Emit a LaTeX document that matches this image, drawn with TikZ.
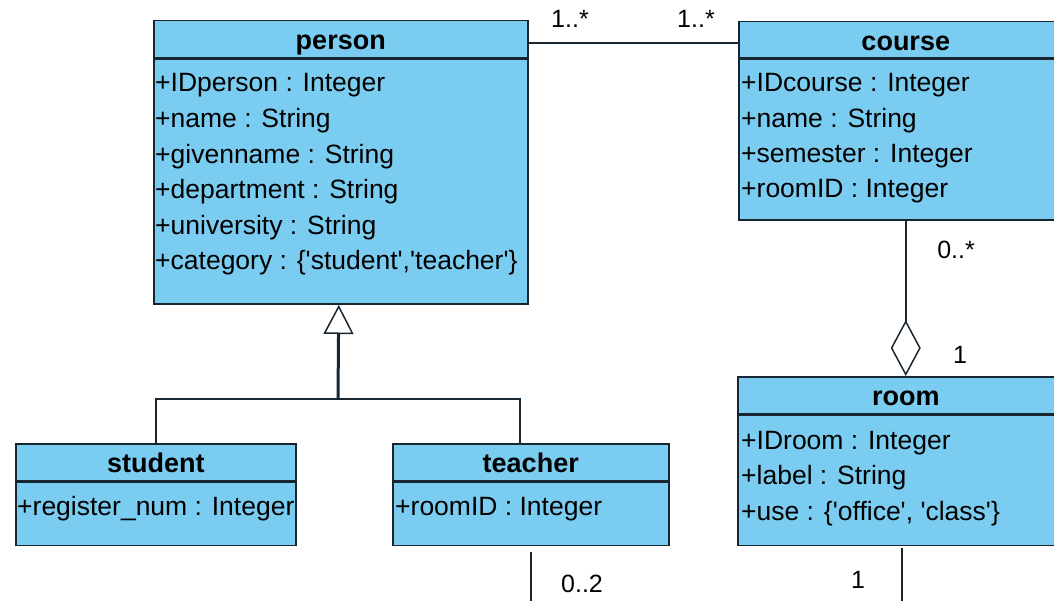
\documentclass[tikz,border=0pt]{standalone}
\usepackage{fontspec}
\setmainfont{Liberation Sans}
\usetikzlibrary{arrows.meta}
\usetikzlibrary{calc}
\definecolor{umlfill}{RGB}{122,204,240}
\definecolor{umlline}{RGB}{24,38,50}

\begin{document}
\begin{tikzpicture}[x=1pt,y=1pt,yscale=-1,xscale=1,
    every node/.style={font=\fontsize{26.5}{30}\selectfont},
    classhead/.style={draw=umlline, fill=umlfill, line width=1.5pt, inner sep=0pt, anchor=north west,
        text height=24pt, text depth=3pt, font=\fontsize{27}{30}\selectfont\bfseries},
    classbody/.style={draw=umlline, fill=umlfill, line width=1.5pt, inner sep=0pt, anchor=north west},
    attr/.style={anchor=base west, inner sep=0pt},
    mult/.style={anchor=base, inner sep=0pt, font=\fontsize{25}{28}\selectfont},
    assoc/.style={draw=umlline, line width=1.5pt}]
    \useasboundingbox (0,0) rectangle (1054,601); %same size as the reference

%Class: person
\node[classhead, minimum width=374, minimum height=37] (personhead) at (153,20) {person};
\node[classbody, minimum width=374, minimum height=245] (personbody) at (personhead.south west) {};
% Text Node
\node[attr] (pIDperson) at (155,92) {+IDperson : Integer};
\node[attr] (pName) at (155,127.6) {+name : String};
\node[attr] (pGivenname) at (155,163.2) {+givenname : String};
\node[attr] (pDepartment) at (155,198.8) {+department : String};
\node[attr] (pUniversity) at (155,234.4) {+university : String};
\node[attr] (pCategory) at (155,270) {+category : \{\textquotesingle student\textquotesingle,\textquotesingle teacher\textquotesingle\}};

%Class: course
\node[classhead, minimum width=334, minimum height=36] (coursehead) at (738,21) {course};
\node[classbody, minimum width=334, minimum height=161] (coursebody) at (coursehead.south west) {};
% Text Node
\node[attr] (cIDcourse) at (741,92) {+IDcourse : Integer};
\node[attr] (cName) at (741,127.3) {+name : String};
\node[attr] (cSemester) at (741,162.6) {+semester : Integer};
\node[attr] (cRoomID) at (741,197.9) {+roomID : Integer};

%Class: room
\node[classhead, minimum width=336, minimum height=37] (roomhead) at (737,376) {room};
\node[classbody, minimum width=336, minimum height=130] (roombody) at (roomhead.south west) {};
% Text Node
\node[attr] (rIDroom) at (741,449) {+IDroom : Integer};
\node[attr] (rLabel) at (741,484.5) {+label : String};
\node[attr] (rUse) at (741,520) {+use : \{\textquotesingle office\textquotesingle, \textquotesingle class\textquotesingle\}};

%Class: student
\node[classhead, minimum width=280, minimum height=37] (studenthead) at (15,443) {student};
\node[classbody, minimum width=280, minimum height=63] (studentbody) at (studenthead.south west) {};
% Text Node
\node[attr] (sRegister) at (17,515) {+register\_num : Integer};

%Class: teacher
\node[classhead, minimum width=276, minimum height=37] (teacherhead) at (392,443) {teacher};
\node[classbody, minimum width=276, minimum height=63] (teacherbody) at (teacherhead.south west) {};
% Text Node
\node[attr] (tRoomID) at (395,515) {+roomID : Integer};

%Association person -- course
\coordinate (assocy) at (0,43);
\draw[assoc] (personhead.east |- assocy) -- (coursehead.west |- assocy);
\node[mult] (mPerson) at (570,28) {1..*};
\node[mult] (mCourse) at (696,28) {1..*};

%Aggregation course -- room
\draw[assoc, -{Diamond[open, length=56pt, width=30pt, line width=1.5pt]}] (coursebody.south) -- (roomhead.north);
\node[mult] (mCourseRoom) at (956,259) {0..*};
\node[mult] (mRoomCourse) at (960,363) {1};

%Generalization student, teacher -> person
\coordinate (genjoin) at (338,399);
\draw[assoc] (studenthead.north) |- (genjoin) -| ($(teacherhead.north)+(-11,0)$);
\draw[assoc, line width=3pt, -{Triangle[open, length=29pt, width=30pt, line width=1.5pt]}] (genjoin) -- ($(personbody.south)+(-2,0)$);

%Links leaving the picture
\coordinate (teacherstub) at (531,552);
\coordinate (teacherout) at (531,601);
\draw[assoc] (teacherstub) -- (teacherout);
\node[mult] (mTeacher) at (582,592) {0..2};
\coordinate (roomstub) at (902,548);
\coordinate (roomout) at (902,601);
\draw[assoc] (roomstub) -- (roomout);
\node[mult] (mRoom) at (858,588) {1};

\end{tikzpicture}
\end{document}
